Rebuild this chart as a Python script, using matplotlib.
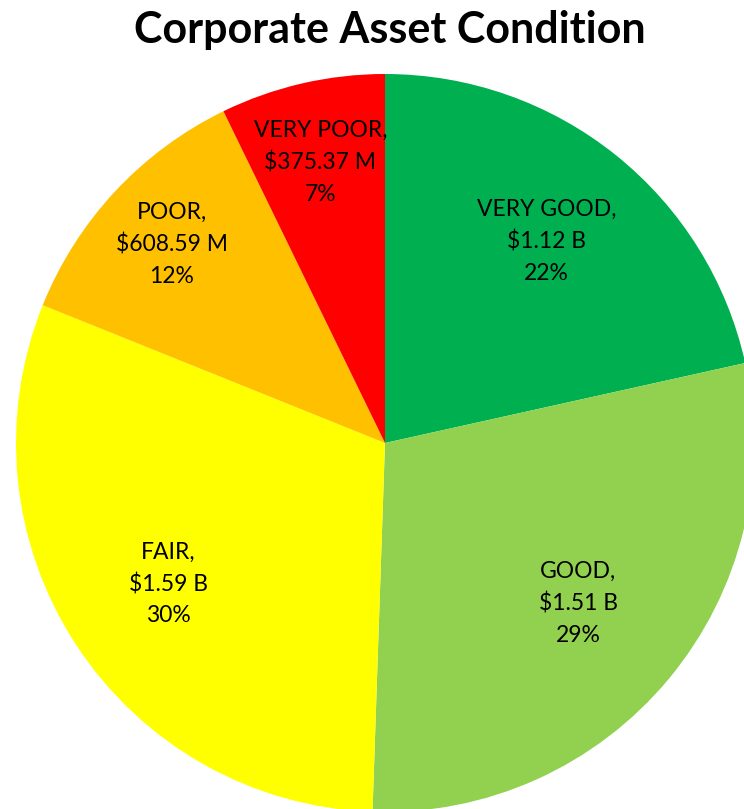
import numpy as np
import matplotlib.pyplot as plt

plt.rcParams['font.family'] = ['Lato', 'DejaVu Sans']

# Asset condition categories and values (in $)
categories = ["VERY GOOD", "GOOD", "FAIR", "POOR", "VERY POOR"]
values = [1.12e9, 1.51e9, 1.59e9, 608.59e6, 375.37e6]
value_labels = ["$1.12 B", "$1.51 B", "$1.59 B", "$608.59 M", "$375.37 M"]
pct_labels = ["22%", "29%", "30%", "12%", "7%"]
colors = ["#00B050", "#92D050", "#FFFF00", "#FFC000", "#FF0000"]

# radial position of each label (fraction of radius)
label_r = [0.70, 0.68, 0.70, 0.79, 0.78]

W, H = 744, 809
fig = plt.figure(figsize=(W / 100, H / 100), dpi=100)

cx, cy, r = 385, 443, 369
ax = fig.add_axes([(cx - r) / W, (H - cy - r) / H, 2 * r / W, 2 * r / H])

wedges, _ = ax.pie(values, colors=colors, startangle=90, counterclock=False,
                   radius=1, wedgeprops=dict(linewidth=0))
ax.set_xlim(-1, 1)
ax.set_ylim(-1, 1)
ax.set_aspect('equal')
ax.axis('off')

for w, cat, vl, pl, lr in zip(wedges, categories, value_labels, pct_labels, label_r):
    ang = np.deg2rad((w.theta1 + w.theta2) / 2)
    ax.text(lr * np.cos(ang), lr * np.sin(ang), f"{cat},\n{vl}\n{pl}",
            ha='center', va='center', fontsize=16.5, linespacing=1.6,
            color='black')

fig.text(390 / W, 1 - 30 / H, "Corporate Asset Condition", ha='center',
         va='center', fontsize=31, fontweight='bold')

fig.savefig("out.png", dpi=100)
